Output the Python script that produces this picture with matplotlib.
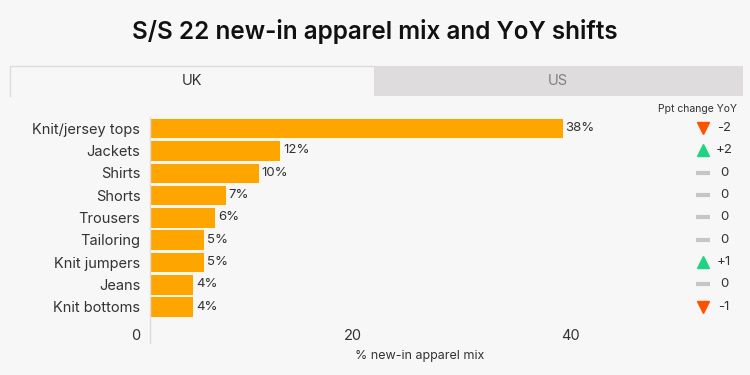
import matplotlib.pyplot as plt
import matplotlib.transforms as mtransforms
from matplotlib.patches import Rectangle
from matplotlib.lines import Line2D

plt.rcParams['font.family'] = ['Inter', 'DejaVu Sans']

categories = ["Knit/jersey tops", "Jackets", "Shirts", "Shorts", "Trousers",
              "Tailoring", "Knit jumpers", "Jeans", "Knit bottoms"]
mix_pct = [38, 12, 10, 7, 6, 5, 5, 4, 4]
ppt_change = [-2, 2, 0, 0, 0, 0, 1, 0, -1]
x_ticks = [0, 20, 40]

BG = "#f7f7f7"
ORANGE = "#ffa500"
RED = "#ff5200"
GREEN = "#1fd37f"
GREY = "#c6c6c6"
TEXT = "#333333"

fig = plt.figure(figsize=(7.5, 3.75), dpi=100, facecolor=BG)

# title
fig.text(0.5, 1 - 32 / 375, "S/S 22 new-in apparel mix and YoY shifts",
         ha="center", va="center", fontsize=17.5, fontweight="semibold", color="#111111")

# tabs
fig.patches.append(Rectangle((10 / 750, 1 - 96 / 375), 364 / 750, 30 / 375,
                             transform=fig.transFigure, facecolor=BG, edgecolor="none"))
fig.lines.append(Line2D([10 / 750, 10 / 750, 374 / 750], [1 - 96 / 375, 1 - 66 / 375, 1 - 66 / 375],
                        transform=fig.transFigure, color="#dcdcdc", lw=1))
fig.patches.append(Rectangle((374 / 750, 1 - 96 / 375), 369 / 750, 30 / 375,
                             transform=fig.transFigure, facecolor="#dedcdc", edgecolor="none"))
fig.text(192 / 750, 1 - 81 / 375, "UK", ha="center", va="center", fontsize=10.5, color=TEXT)
fig.text(558 / 750, 1 - 81 / 375, "US", ha="center", va="center", fontsize=10.5, color="#808080")

ax = fig.add_axes([150 / 750, 1 - 343 / 375, 540 / 750, 226 / 375])
ax.set_facecolor(BG)

y = list(range(len(categories)))
bars = ax.barh(y, mix_pct, height=0.92, color=ORANGE, edgecolor="white", linewidth=0.6)
ax.bar_label(bars, labels=[f"{v}%" for v in mix_pct], padding=2, fontsize=9.5, color=TEXT)

ax.set_xlim(0, 49.7)
ax.set_ylim(9.63, -0.5)
ax.set_yticks(y)
ax.set_yticklabels(categories, fontsize=10.5, color=TEXT)
ax.set_xticks(x_ticks)
ax.set_xticklabels([str(t) for t in x_ticks], fontsize=10.5, color=TEXT)
ax.tick_params(axis="y", length=0, pad=7)
ax.tick_params(axis="x", length=0, pad=-10)

# tick labels sit a bit left of their positions in the original
shift = mtransforms.ScaledTranslation(-14 / 100, 0, fig.dpi_scale_trans)
for lbl in ax.get_xticklabels():
    lbl.set_transform(lbl.get_transform() + shift)

ax.set_xlabel("% new-in apparel mix", fontsize=9, color=TEXT, labelpad=5)

for s in ["top", "right", "bottom"]:
    ax.spines[s].set_visible(False)
ax.spines["left"].set_color("#dddddd")
ax.spines["left"].set_linewidth(1)

# YoY change column
ax.text(1.087, 1.035, "Ppt change YoY", transform=ax.transAxes,
        ha="right", va="center", fontsize=7.5, color=TEXT)
tr = mtransforms.blended_transform_factory(ax.transAxes, ax.transData)
for yi, ch in zip(y, ppt_change):
    if ch > 0:
        ax.plot(1.024, yi, marker="^", ms=9, color=GREEN, transform=tr, clip_on=False)
        lab = f"+{ch}"
    elif ch < 0:
        ax.plot(1.024, yi, marker="v", ms=9, color=RED, transform=tr, clip_on=False)
        lab = f"-{abs(ch)}"
    else:
        ax.plot(1.024, yi, marker="_", ms=10, mew=3, color=GREY, transform=tr, clip_on=False)
        lab = "0"
    ax.text(1.063, yi, lab, transform=tr, ha="center", va="center", fontsize=9.5, color=TEXT)

fig.savefig("out.png", dpi=100, facecolor=BG)
